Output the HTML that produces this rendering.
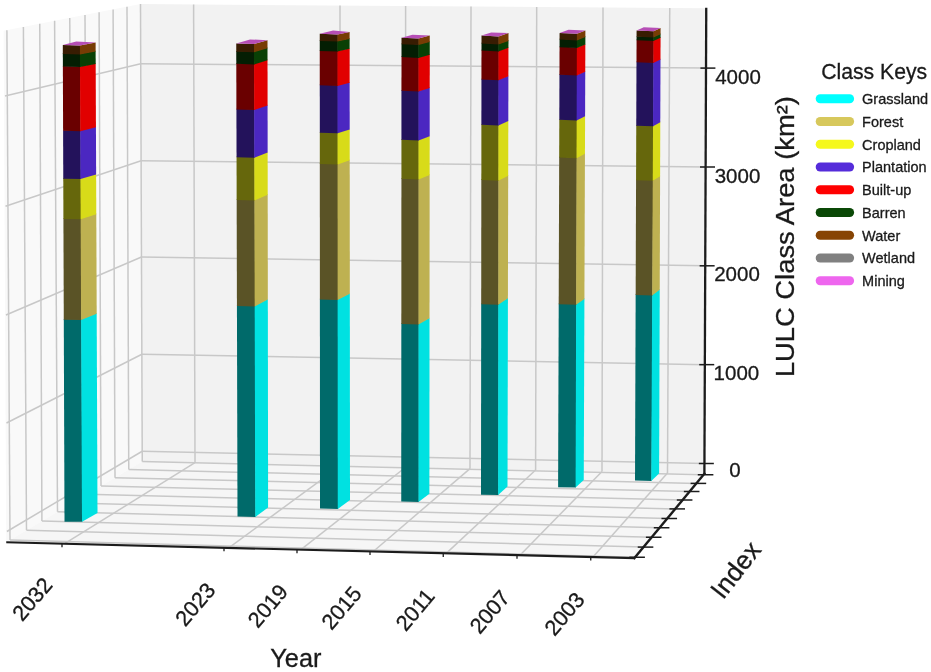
<!DOCTYPE html>
<html><head><meta charset="utf-8"><title>LULC Class Area</title>
<style>
html,body{margin:0;padding:0;background:#fff;}
svg{display:block;}
text{font-family:"Liberation Sans",Arial,Helvetica,sans-serif;stroke:#1a1a1a;stroke-width:0.3px;}
</style></head><body>
<svg width="931" height="672" viewBox="0 0 931 672">
<rect width="931" height="672" fill="#ffffff"/>
<polygon points="3.60,30.80 140.50,4.10 142.25,461.50 6.25,542.25" fill="#f9f9f9" />
<polygon points="140.50,4.10 706.20,8.30 704.40,473.75 142.25,461.50" fill="#f2f2f2" />
<polygon points="142.25,461.50 704.40,473.75 634.40,558.10 6.25,542.25" fill="#f6f6f6" />
<line x1="6.90" y1="30.16" x2="10.00" y2="540.02" stroke="#c8c8c8" stroke-width="1.5" />
<line x1="23.40" y1="26.94" x2="26.50" y2="530.23" stroke="#c8c8c8" stroke-width="1.5" />
<line x1="39.75" y1="23.75" x2="41.90" y2="521.08" stroke="#c8c8c8" stroke-width="1.5" />
<line x1="54.60" y1="20.85" x2="57.50" y2="511.82" stroke="#c8c8c8" stroke-width="1.5" />
<line x1="69.75" y1="17.90" x2="72.30" y2="503.03" stroke="#c8c8c8" stroke-width="1.5" />
<line x1="85.00" y1="14.92" x2="87.20" y2="494.19" stroke="#c8c8c8" stroke-width="1.5" />
<line x1="99.10" y1="12.17" x2="101.00" y2="485.99" stroke="#c8c8c8" stroke-width="1.5" />
<line x1="113.10" y1="9.44" x2="115.00" y2="477.68" stroke="#c8c8c8" stroke-width="1.5" />
<line x1="127.00" y1="6.73" x2="128.75" y2="469.52" stroke="#c8c8c8" stroke-width="1.5" />
<line x1="140.50" y1="4.10" x2="142.25" y2="461.50" stroke="#c8c8c8" stroke-width="1.5" />
<line x1="5.00" y1="96.00" x2="140.70" y2="63.75" stroke="#c8c8c8" stroke-width="1.5" />
<line x1="5.50" y1="206.25" x2="141.10" y2="160.75" stroke="#c8c8c8" stroke-width="1.5" />
<line x1="6.00" y1="315.00" x2="141.50" y2="257.00" stroke="#c8c8c8" stroke-width="1.5" />
<line x1="6.50" y1="423.00" x2="141.90" y2="354.25" stroke="#c8c8c8" stroke-width="1.5" />
<line x1="6.90" y1="531.50" x2="142.20" y2="451.25" stroke="#c8c8c8" stroke-width="1.5" />
<line x1="140.70" y1="63.75" x2="706.00" y2="68.10" stroke="#c8c8c8" stroke-width="1.5" />
<line x1="141.10" y1="160.75" x2="705.60" y2="167.00" stroke="#c8c8c8" stroke-width="1.5" />
<line x1="141.50" y1="257.00" x2="705.20" y2="265.80" stroke="#c8c8c8" stroke-width="1.5" />
<line x1="141.90" y1="354.25" x2="704.80" y2="364.65" stroke="#c8c8c8" stroke-width="1.5" />
<line x1="142.20" y1="451.25" x2="704.40" y2="463.50" stroke="#c8c8c8" stroke-width="1.5" />
<line x1="193.60" y1="4.49" x2="195.00" y2="462.65" stroke="#c8c8c8" stroke-width="1.5" />
<line x1="340.00" y1="5.58" x2="340.30" y2="465.82" stroke="#c8c8c8" stroke-width="1.5" />
<line x1="405.60" y1="6.07" x2="405.60" y2="467.24" stroke="#c8c8c8" stroke-width="1.5" />
<line x1="471.00" y1="6.55" x2="470.00" y2="468.64" stroke="#c8c8c8" stroke-width="1.5" />
<line x1="536.70" y1="7.04" x2="535.60" y2="470.07" stroke="#c8c8c8" stroke-width="1.5" />
<line x1="603.00" y1="7.53" x2="602.00" y2="471.52" stroke="#c8c8c8" stroke-width="1.5" />
<line x1="669.75" y1="8.03" x2="667.50" y2="472.95" stroke="#c8c8c8" stroke-width="1.5" />
<line x1="195.00" y1="462.65" x2="64.60" y2="543.72" stroke="#c8c8c8" stroke-width="1.5" />
<line x1="340.30" y1="465.82" x2="228.75" y2="547.86" stroke="#c8c8c8" stroke-width="1.5" />
<line x1="405.60" y1="467.24" x2="300.90" y2="549.68" stroke="#c8c8c8" stroke-width="1.5" />
<line x1="470.00" y1="468.64" x2="373.25" y2="551.51" stroke="#c8c8c8" stroke-width="1.5" />
<line x1="535.60" y1="470.07" x2="446.25" y2="553.35" stroke="#c8c8c8" stroke-width="1.5" />
<line x1="602.00" y1="471.52" x2="520.00" y2="555.21" stroke="#c8c8c8" stroke-width="1.5" />
<line x1="667.50" y1="472.95" x2="593.00" y2="557.06" stroke="#c8c8c8" stroke-width="1.5" />
<line x1="142.25" y1="461.50" x2="703.57" y2="474.75" stroke="#c8c8c8" stroke-width="1.5" />
<line x1="128.75" y1="469.52" x2="696.39" y2="483.40" stroke="#c8c8c8" stroke-width="1.5" />
<line x1="115.00" y1="477.68" x2="689.67" y2="491.50" stroke="#c8c8c8" stroke-width="1.5" />
<line x1="101.00" y1="485.99" x2="682.62" y2="500.00" stroke="#c8c8c8" stroke-width="1.5" />
<line x1="87.20" y1="494.19" x2="675.23" y2="508.90" stroke="#c8c8c8" stroke-width="1.5" />
<line x1="72.30" y1="503.03" x2="667.26" y2="518.50" stroke="#c8c8c8" stroke-width="1.5" />
<line x1="57.50" y1="511.82" x2="659.59" y2="527.75" stroke="#c8c8c8" stroke-width="1.5" />
<line x1="41.90" y1="521.08" x2="651.70" y2="537.25" stroke="#c8c8c8" stroke-width="1.5" />
<line x1="26.50" y1="530.23" x2="643.53" y2="547.10" stroke="#c8c8c8" stroke-width="1.5" />
<line x1="10.00" y1="540.02" x2="635.11" y2="557.25" stroke="#c8c8c8" stroke-width="1.5" />
<polygon points="64.50,521.75 82.40,521.75 81.51,319.30 63.78,319.09" fill="#006a6a" />
<polygon points="82.00,521.75 97.50,513.00 96.69,313.04 81.11,319.30" fill="#00e1e1" />
<polygon points="63.78,319.79 81.51,320.00 81.06,218.55 63.42,218.23" fill="#5a5326" />
<polygon points="81.11,320.00 96.70,313.73 96.29,213.52 80.66,218.55" fill="#beb151" />
<polygon points="63.42,218.93 81.07,219.25 80.89,178.30 63.27,177.94" fill="#66670c" />
<polygon points="80.67,219.25 96.29,214.21 96.13,173.77 80.49,178.30" fill="#d8db19" />
<polygon points="63.28,178.64 80.89,179.00 80.68,130.55 63.10,130.14" fill="#23125b" />
<polygon points="80.49,179.00 96.13,174.46 95.94,126.60 80.28,130.55" fill="#4b27c1" />
<polygon points="63.11,130.84 80.68,131.25 80.39,66.40 62.87,65.92" fill="#6a0000" />
<polygon points="80.28,131.25 95.94,127.30 95.68,63.24 79.99,66.40" fill="#e10000" />
<polygon points="62.88,66.62 80.40,67.10 80.34,53.70 62.83,53.21" fill="#041e03" />
<polygon points="80.00,67.10 95.69,63.93 95.63,50.70 79.94,53.70" fill="#094005" />
<polygon points="62.83,53.91 80.34,54.40 80.30,45.40 62.80,44.90" fill="#381c02" />
<polygon points="79.94,54.40 95.64,51.39 95.60,42.50 79.90,45.40" fill="#773c04" />
<polygon points="62.80,44.90 79.90,45.40 95.60,42.50 76.25,41.60" fill="#b64eb6" />
<polygon points="237.50,516.50 255.65,516.90 255.09,305.80 236.94,305.31" fill="#006a6a" />
<polygon points="255.25,516.90 268.10,507.50 267.83,298.88 254.69,305.80" fill="#00e1e1" />
<polygon points="236.94,306.01 255.09,306.50 254.81,199.80 236.66,199.27" fill="#5a5326" />
<polygon points="254.69,306.50 267.83,299.57 267.70,194.12 254.41,199.80" fill="#beb151" />
<polygon points="236.66,199.97 254.81,200.50 254.70,157.05 236.55,156.50" fill="#66670c" />
<polygon points="254.41,200.50 267.70,194.81 267.64,151.87 254.30,157.05" fill="#d8db19" />
<polygon points="236.55,157.20 254.70,157.75 254.57,109.30 236.42,108.73" fill="#23125b" />
<polygon points="254.30,157.75 267.64,152.57 267.58,104.68 254.17,109.30" fill="#4b27c1" />
<polygon points="236.42,109.43 254.57,110.00 254.45,63.70 236.30,63.11" fill="#6a0000" />
<polygon points="254.17,110.00 267.58,105.38 267.52,59.62 254.05,63.70" fill="#e10000" />
<polygon points="236.30,63.81 254.45,64.40 254.42,51.55 236.27,50.95" fill="#041e03" />
<polygon points="254.05,64.40 267.53,60.31 267.51,47.61 254.02,51.55" fill="#094005" />
<polygon points="236.27,51.65 254.42,52.25 254.40,44.10 236.25,43.50" fill="#381c02" />
<polygon points="254.02,52.25 267.51,48.30 267.50,40.25 254.00,44.10" fill="#773c04" />
<polygon points="236.25,43.50 254.00,44.10 267.50,40.25 250.00,39.40" fill="#b64eb6" />
<polygon points="320.00,508.50 338.15,509.00 338.04,299.30 319.89,298.73" fill="#006a6a" />
<polygon points="337.75,509.00 350.00,500.00 349.82,293.17 337.64,299.30" fill="#00e1e1" />
<polygon points="319.89,299.43 338.04,300.00 337.97,163.80 319.82,163.19" fill="#5a5326" />
<polygon points="337.64,300.00 349.82,293.86 349.71,159.53 337.57,163.80" fill="#beb151" />
<polygon points="319.82,163.89 337.97,164.50 337.95,132.55 319.80,131.93" fill="#66670c" />
<polygon points="337.57,164.50 349.71,160.22 349.68,128.71 337.55,132.55" fill="#d8db19" />
<polygon points="319.80,132.63 337.95,133.25 337.93,85.20 319.78,84.57" fill="#23125b" />
<polygon points="337.55,133.25 349.68,129.40 349.64,82.00 337.53,85.20" fill="#4b27c1" />
<polygon points="319.78,85.27 337.93,85.90 337.91,50.90 319.76,50.26" fill="#6a0000" />
<polygon points="337.53,85.90 349.64,82.69 349.61,48.17 337.51,50.90" fill="#e10000" />
<polygon points="319.76,50.96 337.91,51.60 337.90,40.90 319.75,40.25" fill="#041e03" />
<polygon points="337.51,51.60 349.61,48.86 349.61,38.31 337.50,40.90" fill="#094005" />
<polygon points="319.75,40.95 337.90,41.60 337.90,34.40 319.75,33.75" fill="#381c02" />
<polygon points="337.50,41.60 349.61,39.00 349.60,31.90 337.50,34.40" fill="#773c04" />
<polygon points="319.75,33.75 337.50,34.40 349.60,31.90 333.10,30.60" fill="#b64eb6" />
<polygon points="401.25,501.60 418.90,501.90 418.90,323.80 401.35,323.29" fill="#006a6a" />
<polygon points="418.50,501.90 429.40,493.75 429.53,317.63 418.50,323.80" fill="#00e1e1" />
<polygon points="401.35,323.99 418.90,324.50 418.90,178.80 401.42,178.12" fill="#5a5326" />
<polygon points="418.50,324.50 429.53,318.32 429.64,174.24 418.50,178.80" fill="#beb151" />
<polygon points="401.42,178.82 418.90,179.50 418.90,139.80 401.45,139.07" fill="#66670c" />
<polygon points="418.50,179.50 429.64,174.93 429.67,135.68 418.50,139.80" fill="#d8db19" />
<polygon points="401.45,139.77 418.90,140.50 418.90,90.90 401.47,90.11" fill="#23125b" />
<polygon points="418.50,140.50 429.67,136.37 429.71,87.32 418.50,90.90" fill="#4b27c1" />
<polygon points="401.47,90.81 418.90,91.60 418.90,57.20 401.49,56.37" fill="#6a0000" />
<polygon points="418.50,91.60 429.71,88.01 429.74,53.99 418.50,57.20" fill="#e10000" />
<polygon points="401.49,57.07 418.90,57.90 418.90,44.30 401.50,43.46" fill="#041e03" />
<polygon points="418.50,57.90 429.74,54.69 429.75,41.24 418.50,44.30" fill="#094005" />
<polygon points="401.50,44.16 418.90,45.00 418.90,38.60 401.50,37.75" fill="#381c02" />
<polygon points="418.50,45.00 429.75,41.93 429.75,35.60 418.50,38.60" fill="#773c04" />
<polygon points="401.50,37.75 418.50,38.60 429.75,35.60 412.50,34.75" fill="#b64eb6" />
<polygon points="481.00,494.75 498.50,495.00 498.67,304.05 481.21,303.53" fill="#006a6a" />
<polygon points="498.10,495.00 507.50,486.50 507.92,297.67 498.27,304.05" fill="#00e1e1" />
<polygon points="481.21,304.23 498.67,304.75 498.77,180.05 481.34,179.35" fill="#5a5326" />
<polygon points="498.27,304.75 507.91,298.37 508.19,175.05 498.37,180.05" fill="#beb151" />
<polygon points="481.34,180.05 498.77,180.75 498.82,124.80 481.40,124.03" fill="#66670c" />
<polygon points="498.37,180.75 508.19,175.75 508.31,120.42 498.42,124.80" fill="#d8db19" />
<polygon points="481.40,124.73 498.82,125.50 498.86,79.55 481.45,78.71" fill="#23125b" />
<polygon points="498.42,125.50 508.31,121.11 508.41,75.67 498.46,79.55" fill="#4b27c1" />
<polygon points="481.45,79.41 498.86,80.25 498.89,50.70 481.48,49.82" fill="#6a0000" />
<polygon points="498.46,80.25 508.40,76.36 508.47,47.14 498.49,50.70" fill="#e10000" />
<polygon points="481.48,50.52 498.89,51.40 498.89,43.70 481.49,42.81" fill="#041e03" />
<polygon points="498.49,51.40 508.47,47.83 508.48,40.22 498.49,43.70" fill="#094005" />
<polygon points="481.49,43.51 498.89,44.40 498.90,36.50 481.50,35.60" fill="#381c02" />
<polygon points="498.49,44.40 508.48,40.91 508.50,33.10 498.50,36.50" fill="#773c04" />
<polygon points="481.50,35.60 498.50,36.50 508.50,33.10 491.25,32.50" fill="#b64eb6" />
<polygon points="558.10,487.25 576.00,487.50 576.53,304.05 558.71,303.56" fill="#006a6a" />
<polygon points="575.60,487.50 583.75,480.00 584.42,298.23 576.13,304.05" fill="#00e1e1" />
<polygon points="558.70,304.26 576.52,304.75 576.95,157.55 559.19,156.86" fill="#5a5326" />
<polygon points="576.12,304.75 584.41,298.92 584.95,153.07 576.55,157.55" fill="#beb151" />
<polygon points="559.19,157.56 576.94,158.25 577.05,119.80 559.32,119.06" fill="#66670c" />
<polygon points="576.54,158.25 584.95,153.76 585.09,115.66 576.65,119.80" fill="#d8db19" />
<polygon points="559.31,119.76 577.05,120.50 577.18,74.90 559.46,74.10" fill="#23125b" />
<polygon points="576.65,120.50 585.08,116.36 585.25,71.17 576.78,74.90" fill="#4b27c1" />
<polygon points="559.46,74.81 577.18,75.60 577.26,47.40 559.55,46.57" fill="#6a0000" />
<polygon points="576.78,75.60 585.25,71.87 585.35,43.93 576.86,47.40" fill="#e10000" />
<polygon points="559.55,47.27 577.26,48.10 577.28,39.70 559.58,38.86" fill="#041e03" />
<polygon points="576.86,48.10 585.35,44.62 585.38,36.30 576.88,39.70" fill="#094005" />
<polygon points="559.58,39.56 577.28,40.40 577.30,33.75 559.60,32.90" fill="#381c02" />
<polygon points="576.88,40.40 585.38,36.99 585.40,30.40 576.90,33.75" fill="#773c04" />
<polygon points="559.60,32.90 576.90,33.75 585.40,30.40 568.50,29.75" fill="#b64eb6" />
<polygon points="635.00,480.60 651.65,481.00 652.58,294.80 635.66,294.30" fill="#006a6a" />
<polygon points="651.25,481.00 659.10,473.50 659.72,289.10 652.18,294.80" fill="#00e1e1" />
<polygon points="635.66,295.00 652.58,295.50 653.16,180.05 636.07,179.48" fill="#5a5326" />
<polygon points="652.18,295.50 659.72,289.79 660.10,175.46 652.76,180.05" fill="#beb151" />
<polygon points="636.07,180.18 653.15,180.75 653.43,125.55 636.26,124.95" fill="#66670c" />
<polygon points="652.75,180.75 660.10,176.15 660.29,121.49 653.03,125.55" fill="#d8db19" />
<polygon points="636.26,125.65 653.42,126.25 653.75,62.20 636.49,61.57" fill="#23125b" />
<polygon points="653.02,126.25 660.28,122.18 660.50,58.75 653.35,62.20" fill="#4b27c1" />
<polygon points="636.49,62.27 653.74,62.90 653.86,40.20 636.57,39.55" fill="#6a0000" />
<polygon points="653.34,62.90 660.49,59.44 660.57,36.96 653.46,40.20" fill="#e10000" />
<polygon points="636.57,40.26 653.85,40.90 653.87,36.80 636.58,36.15" fill="#041e03" />
<polygon points="653.45,40.90 660.57,37.66 660.58,33.60 653.47,36.80" fill="#094005" />
<polygon points="636.58,36.85 653.87,37.50 653.90,31.25 636.60,30.60" fill="#381c02" />
<polygon points="653.47,37.50 660.58,34.29 660.60,28.10 653.50,31.25" fill="#773c04" />
<polygon points="636.60,30.60 653.50,31.25 660.60,28.10 643.75,27.25" fill="#b64eb6" />
<line x1="6.25" y1="542.25" x2="635.20" y2="558.10" stroke="#1c1c1c" stroke-width="2.2" />
<line x1="634.40" y1="558.10" x2="704.40" y2="473.75" stroke="#1c1c1c" stroke-width="2.4" stroke-linecap="square"/>
<line x1="704.40" y1="473.75" x2="706.25" y2="7.75" stroke="#1c1c1c" stroke-width="2.3" />
<line x1="62.00" y1="543.66" x2="62.00" y2="547.26" stroke="#1c1c1c" stroke-width="1.3" />
<line x1="224.00" y1="547.74" x2="224.00" y2="551.34" stroke="#1c1c1c" stroke-width="1.3" />
<line x1="297.00" y1="549.59" x2="297.00" y2="553.19" stroke="#1c1c1c" stroke-width="1.3" />
<line x1="370.00" y1="551.43" x2="370.00" y2="555.03" stroke="#1c1c1c" stroke-width="1.3" />
<line x1="443.25" y1="553.28" x2="443.25" y2="556.88" stroke="#1c1c1c" stroke-width="1.3" />
<line x1="517.00" y1="555.14" x2="517.00" y2="558.74" stroke="#1c1c1c" stroke-width="1.3" />
<line x1="590.75" y1="557.00" x2="590.75" y2="560.60" stroke="#1c1c1c" stroke-width="1.3" />
<line x1="697.77" y1="474.75" x2="713.37" y2="474.75" stroke="#1c1c1c" stroke-width="1.5" />
<line x1="690.59" y1="483.40" x2="706.19" y2="483.40" stroke="#1c1c1c" stroke-width="1.5" />
<line x1="683.87" y1="491.50" x2="699.47" y2="491.50" stroke="#1c1c1c" stroke-width="1.5" />
<line x1="676.82" y1="500.00" x2="692.42" y2="500.00" stroke="#1c1c1c" stroke-width="1.5" />
<line x1="669.43" y1="508.90" x2="685.03" y2="508.90" stroke="#1c1c1c" stroke-width="1.5" />
<line x1="661.46" y1="518.50" x2="677.06" y2="518.50" stroke="#1c1c1c" stroke-width="1.5" />
<line x1="653.79" y1="527.75" x2="669.39" y2="527.75" stroke="#1c1c1c" stroke-width="1.5" />
<line x1="645.90" y1="537.25" x2="661.50" y2="537.25" stroke="#1c1c1c" stroke-width="1.5" />
<line x1="637.73" y1="547.10" x2="653.33" y2="547.10" stroke="#1c1c1c" stroke-width="1.5" />
<line x1="629.31" y1="557.25" x2="644.91" y2="557.25" stroke="#1c1c1c" stroke-width="1.5" />
<line x1="700.41" y1="68.10" x2="715.41" y2="68.10" stroke="#1c1c1c" stroke-width="1.5" />
<line x1="700.02" y1="167.00" x2="715.02" y2="167.00" stroke="#1c1c1c" stroke-width="1.5" />
<line x1="699.63" y1="265.80" x2="714.63" y2="265.80" stroke="#1c1c1c" stroke-width="1.5" />
<line x1="699.23" y1="364.65" x2="714.23" y2="364.65" stroke="#1c1c1c" stroke-width="1.5" />
<line x1="698.84" y1="463.50" x2="713.84" y2="463.50" stroke="#1c1c1c" stroke-width="1.5" />
<text x="738.00" y="84.00" font-size="20.5" text-anchor="middle" fill="#1a1a1a" >4000</text>
<text x="737.50" y="182.90" font-size="20.5" text-anchor="middle" fill="#1a1a1a" >3000</text>
<text x="737.00" y="281.30" font-size="20.5" text-anchor="middle" fill="#1a1a1a" >2000</text>
<text x="736.40" y="379.80" font-size="20.5" text-anchor="middle" fill="#1a1a1a" >1000</text>
<text x="734.90" y="476.90" font-size="20.5" text-anchor="middle" fill="#1a1a1a" >0</text>
<text x="32.10" y="599.00" font-size="21.7" text-anchor="middle" dominant-baseline="central" fill="#1a1a1a" transform="rotate(-49.5 32.10 599.00)">2032</text>
<text x="195.25" y="604.22" font-size="21.7" text-anchor="middle" dominant-baseline="central" fill="#1a1a1a" transform="rotate(-49.5 195.25 604.22)">2023</text>
<text x="267.80" y="605.76" font-size="21.7" text-anchor="middle" dominant-baseline="central" fill="#1a1a1a" transform="rotate(-49.5 267.80 605.76)">2019</text>
<text x="341.50" y="607.71" font-size="21.7" text-anchor="middle" dominant-baseline="central" fill="#1a1a1a" transform="rotate(-49.5 341.50 607.71)">2015</text>
<text x="415.10" y="609.71" font-size="21.7" text-anchor="middle" dominant-baseline="central" fill="#1a1a1a" transform="rotate(-49.5 415.10 609.71)">2011</text>
<text x="489.75" y="611.70" font-size="21.7" text-anchor="middle" dominant-baseline="central" fill="#1a1a1a" transform="rotate(-49.5 489.75 611.70)">2007</text>
<text x="564.40" y="613.70" font-size="21.7" text-anchor="middle" dominant-baseline="central" fill="#1a1a1a" transform="rotate(-49.5 564.40 613.70)">2003</text>
<text x="295.85" y="666.50" font-size="25.3" text-anchor="middle" fill="#1a1a1a" >Year</text>
<text x="735.5" y="569.9" font-size="26.1" text-anchor="middle" dominant-baseline="central" fill="#1a1a1a" transform="rotate(-52 735.5 569.9)">Index</text>
<text x="794.4" y="236.6" font-size="25.5" text-anchor="middle" fill="#1a1a1a" transform="rotate(-90 794.4 236.6)" textLength="281" lengthAdjust="spacingAndGlyphs">LULC Class Area (km²)</text>
<text x="874.20" y="79.30" font-size="21.2" text-anchor="middle" fill="#1a1a1a" >Class Keys</text>
<line x1="820.20" y1="98.70" x2="849.60" y2="98.70" stroke="#00ffff" stroke-width="9" stroke-linecap="round"/>
<text x="862.10" y="104.10" font-size="14.5" text-anchor="start" fill="#1a1a1a" >Grassland</text>
<line x1="820.20" y1="121.45" x2="849.60" y2="121.45" stroke="#d7c85c" stroke-width="9" stroke-linecap="round"/>
<text x="862.10" y="126.85" font-size="14.5" text-anchor="start" fill="#1a1a1a" >Forest</text>
<line x1="820.20" y1="144.20" x2="849.60" y2="144.20" stroke="#f5f81c" stroke-width="9" stroke-linecap="round"/>
<text x="862.10" y="149.60" font-size="14.5" text-anchor="start" fill="#1a1a1a" >Cropland</text>
<line x1="820.20" y1="166.95" x2="849.60" y2="166.95" stroke="#552cda" stroke-width="9" stroke-linecap="round"/>
<text x="862.10" y="172.35" font-size="14.5" text-anchor="start" fill="#1a1a1a" >Plantation</text>
<line x1="820.20" y1="189.70" x2="849.60" y2="189.70" stroke="#ff0000" stroke-width="9" stroke-linecap="round"/>
<text x="862.10" y="195.10" font-size="14.5" text-anchor="start" fill="#1a1a1a" >Built-up</text>
<line x1="820.20" y1="212.45" x2="849.60" y2="212.45" stroke="#0a4806" stroke-width="9" stroke-linecap="round"/>
<text x="862.10" y="217.85" font-size="14.5" text-anchor="start" fill="#1a1a1a" >Barren</text>
<line x1="820.20" y1="235.20" x2="849.60" y2="235.20" stroke="#874404" stroke-width="9" stroke-linecap="round"/>
<text x="862.10" y="240.60" font-size="14.5" text-anchor="start" fill="#1a1a1a" >Water</text>
<line x1="820.20" y1="257.95" x2="849.60" y2="257.95" stroke="#808080" stroke-width="9" stroke-linecap="round"/>
<text x="862.10" y="263.35" font-size="14.5" text-anchor="start" fill="#1a1a1a" >Wetland</text>
<line x1="820.20" y1="280.70" x2="849.60" y2="280.70" stroke="#ee66ee" stroke-width="9" stroke-linecap="round"/>
<text x="862.10" y="286.10" font-size="14.5" text-anchor="start" fill="#1a1a1a" >Mining</text>
</svg>
</body></html>
